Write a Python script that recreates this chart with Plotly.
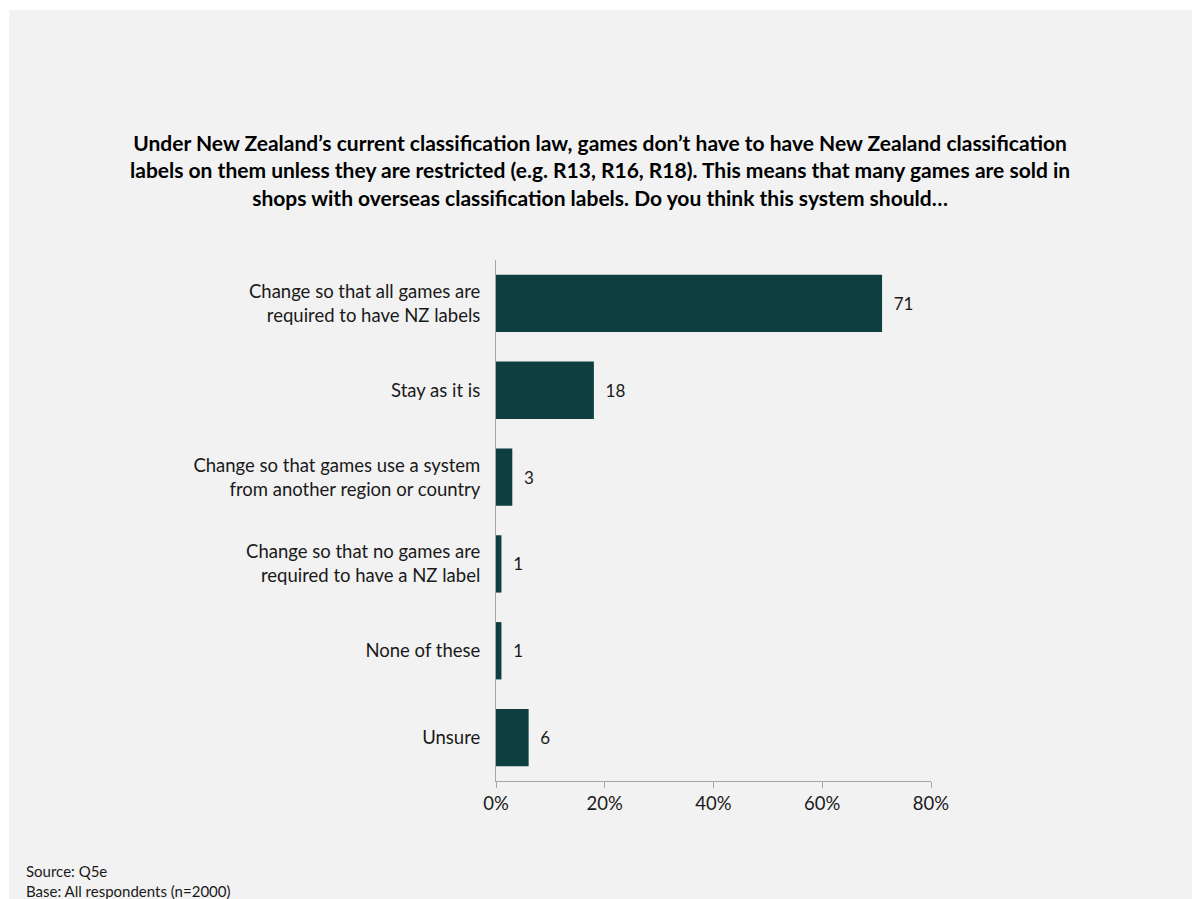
import plotly.graph_objects as go

# Survey answers and percentage of respondents choosing each
categories = [
    "Change so that all games are<br>required to have NZ labels",
    "Stay as it is",
    "Change so that games use a system<br>from another region or country",
    "Change so that no games are<br>required to have a NZ label",
    "None of these",
    "Unsure",
]
values = [71, 18, 3, 1, 1, 6]
x_ticks = [0, 20, 40, 60, 80]
x_tick_labels = ["0%", "20%", "40%", "60%", "80%"]

title_text = (
    "<b>Under New Zealand’s current classification law, games don’t have to have New Zealand classification<br>"
    "labels on them unless they are restricted (e.g. R13, R16, R18). This means that many games are sold in<br>"
    "shops with overseas classification labels. Do you think this system should…</b>"
)

FONT = "Lato, 'Open Sans', Arial, sans-serif"
BAR = "#0e3e40"
AXIS = "#a6a6a6"

fig = go.Figure(
    go.Bar(
        x=values,
        y=categories,
        orientation="h",
        marker=dict(color=BAR, line=dict(width=0)),
        text=[f"  {v}" for v in values],
        textposition="outside",
        textfont=dict(family=FONT, size=17, color="#1a1a1a"),
        cliponaxis=False,
        hoverinfo="skip",
    )
)

L, R, T, B = 496, 261, 260, 118
pw, ph = 1192 - L - R, 899 - T - B

fig.update_layout(
    width=1192,
    height=899,
    margin=dict(l=L, r=R, t=T, b=B, pad=0),
    paper_bgcolor="white",
    plot_bgcolor="rgba(0,0,0,0)",
    bargap=0.34,
    showlegend=False,
    font=dict(family=FONT, size=18, color="#1a1a1a"),
    xaxis=dict(
        range=[0, 80],
        tickvals=x_ticks,
        ticktext=x_tick_labels,
        showgrid=False,
        zeroline=False,
        showline=True,
        linecolor=AXIS,
        linewidth=1,
        ticks="outside",
        ticklen=6,
        tickcolor=AXIS,
        tickfont=dict(size=18.5),
        fixedrange=True,
    ),
    yaxis=dict(
        categoryorder="array",
        categoryarray=categories,
        autorange="reversed",
        showgrid=False,
        zeroline=False,
        showline=True,
        linecolor=AXIS,
        linewidth=1,
        ticks="",
        ticklabelstandoff=11,
        tickfont=dict(size=18.5),
        fixedrange=True,
    ),
    shapes=[
        dict(
            type="rect",
            xref="paper",
            yref="paper",
            x0=(9 - L) / pw,
            x1=(1192 - L) / pw,
            y0=(T + ph - 899) / ph,
            y1=(T + ph - 10) / ph,
            fillcolor="#f2f2f2",
            line=dict(width=0),
            layer="below",
        )
    ],
    annotations=[
        dict(
            text=title_text,
            xref="paper",
            yref="paper",
            x=(600 - L) / pw,
            y=(T + ph - 128) / ph,
            xanchor="center",
            yanchor="top",
            showarrow=False,
            align="center",
            font=dict(family=FONT, size=21, color="#000000"),
        ),
        dict(
            text="Source: Q5e<br>Base: All respondents (n=2000)",
            xref="paper",
            yref="paper",
            x=(24 - L) / pw,
            y=(T + ph - 860) / ph,
            xanchor="left",
            yanchor="top",
            showarrow=False,
            align="left",
            font=dict(family=FONT, size=15, color="#1a1a1a"),
        ),
    ],
)

fig.write_html("out.html")
